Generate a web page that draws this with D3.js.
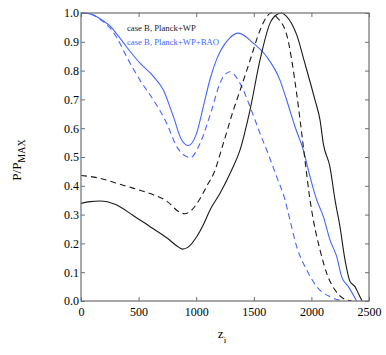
<!DOCTYPE html>
<html>
<head>
<meta charset="utf-8">
<script src="https://cdn.jsdelivr.net/npm/d3@7"></script>
<style>
  html, body { margin: 0; padding: 0; background: #fff; }
  svg { display: block; }
  text { font-family: "Liberation Serif", "DejaVu Serif", serif; }
</style>
</head>
<body>
<svg id="chart" width="386" height="355"></svg>
<script>
// ---- data (z_i, P/P_MAX) ----
const blackSolid = [[0,0.339],[80,0.345],[165,0.347],[300,0.335],[450,0.298],[600,0.258],[750,0.218],[830,0.192],[880,0.18],[930,0.187],[1004,0.223],[1062,0.265],[1120,0.316],[1207,0.374],[1308,0.455],[1380,0.524],[1467,0.663],[1554,0.837],[1640,0.964],[1700,0.995],[1740,1.0],[1780,0.99],[1830,0.962],[1872,0.925],[1940,0.83],[2031,0.698],[2075,0.628],[2104,0.545],[2161,0.466],[2205,0.351],[2248,0.258],[2292,0.142],[2335,0.068],[2378,0.05],[2407,0.027],[2440,0]];
const blackDashed = [[0,0.436],[165,0.426],[300,0.41],[450,0.392],[600,0.373],[750,0.345],[850,0.31],[900,0.303],[961,0.316],[1033,0.355],[1100,0.405],[1149,0.44],[1236,0.548],[1323,0.663],[1380,0.73],[1467,0.835],[1554,0.94],[1612,0.987],[1650,1.0],[1700,0.985],[1785,0.925],[1872,0.72],[1915,0.585],[1944,0.49],[1988,0.351],[2017,0.281],[2075,0.177],[2133,0.096],[2205,0.038],[2277,0.009],[2350,0]];
const blueSolid = [[0,1.0],[80,0.997],[165,0.98],[252,0.955],[320,0.922],[396,0.882],[512,0.826],[628,0.78],[715,0.733],[802,0.64],[874,0.559],[932,0.54],[1004,0.583],[1062,0.675],[1120,0.77],[1178,0.84],[1235,0.885],[1290,0.913],[1366,0.93],[1496,0.895],[1612,0.848],[1727,0.767],[1785,0.698],[1858,0.605],[1930,0.524],[1988,0.432],[2046,0.351],[2104,0.293],[2161,0.212],[2220,0.154],[2263,0.084],[2321,0.05],[2393,0]];
const blueDashed = [[0,1.0],[80,0.997],[165,0.978],[252,0.948],[310,0.915],[396,0.848],[512,0.767],[628,0.698],[744,0.617],[831,0.536],[900,0.505],[950,0.498],[1033,0.547],[1134,0.663],[1207,0.757],[1293,0.796],[1380,0.756],[1467,0.675],[1554,0.582],[1640,0.495],[1698,0.432],[1771,0.351],[1814,0.281],[1872,0.189],[1959,0.108],[2046,0.05],[2161,0.015],[2277,0]];

const xTicks = [0, 500, 1000, 1500, 2000, 2500];
const yTicks = [0, 0.1, 0.2, 0.3, 0.4, 0.5, 0.6, 0.7, 0.8, 0.9, 1.0];
const legendLabels = ["case B, Planck+WP", "case B, Planck+WP+BAO"];

// ---- layout ----
const svg = d3.select("#chart");
const m = {left: 81, top: 13, right: 17, bottom: 54};
const W = 386 - m.left - m.right, H = 355 - m.top - m.bottom;
const x = d3.scaleLinear().domain([0, 2500]).range([0, W]);
const y = d3.scaleLinear().domain([0, 1]).range([H, 0]);

const g = svg.append("g").attr("transform", `translate(${m.left},${m.top})`);

g.append("clipPath").attr("id", "clip").append("rect")
  .attr("x", 0).attr("y", -1).attr("width", W).attr("height", H + 1);

const BLUE = "#4466ff", BLACK = "#1a1a1a", AXIS = "#6e6e6e";

const line = d3.line().x(d => x(d[0])).y(d => y(d[1])).curve(d3.curveMonotoneX);
const series = [
  {data: blueDashed, color: BLUE, dash: "6,4"},
  {data: blueSolid, color: BLUE, dash: null},
  {data: blackDashed, color: BLACK, dash: "6,4"},
  {data: blackSolid, color: BLACK, dash: null}
];
const lines = g.append("g").attr("clip-path", "url(#clip)");
series.forEach(s => {
  lines.append("path").datum(s.data)
    .attr("d", line).attr("fill", "none")
    .attr("stroke", s.color).attr("stroke-width", 1.1)
    .attr("stroke-dasharray", s.dash);
});

// ---- axes ----
const tl = 4;
const styleAxis = sel => {
  sel.select(".domain").remove();
  sel.selectAll(".tick line").attr("stroke", AXIS).attr("stroke-width", 1);
  sel.selectAll(".tick text").attr("fill", "#000").style("font-size", "12px")
     .style("font-family", '"Liberation Serif", serif');
};
g.append("g").attr("transform", `translate(0,${H})`)
  .call(d3.axisBottom(x).tickValues(xTicks).tickSizeInner(-tl).tickSizeOuter(0).tickPadding(6).tickFormat(d3.format("d")))
  .call(styleAxis);
g.append("g")
  .call(d3.axisTop(x).tickValues(xTicks).tickSizeInner(-tl).tickSizeOuter(0).tickFormat(""))
  .call(styleAxis);
g.append("g")
  .call(d3.axisLeft(y).tickValues(yTicks).tickSizeInner(-tl).tickSizeOuter(0).tickPadding(2).tickFormat(d3.format(".1f")))
  .call(styleAxis);
g.append("g").attr("transform", `translate(${W},0)`)
  .call(d3.axisRight(y).tickValues(yTicks).tickSizeInner(-tl).tickSizeOuter(0).tickFormat(""))
  .call(styleAxis);

g.append("rect").attr("x", 0).attr("y", 0).attr("width", W).attr("height", H)
  .attr("fill", "none").attr("stroke", AXIS).attr("stroke-width", 1.2);

// ---- legend ----
const leg = g.append("g");
[BLACK, BLUE].forEach((c, i) => {
  leg.append("text").attr("x", 46).attr("y", 18 + i * 14)
    .attr("fill", c).style("font-size", "8.7px").text(legendLabels[i]);
});

// ---- axis titles ----
const xl = svg.append("text").attr("x", 222).attr("y", 338)
  .attr("text-anchor", "middle").style("font-size", "13px");
xl.append("tspan").text("z");
xl.append("tspan").attr("dy", 5).style("font-size", "9px").text("i");

const yl = svg.append("text").attr("transform", "translate(21,160) rotate(-90)")
  .attr("text-anchor", "middle").style("font-size", "13px");
yl.append("tspan").text("P/P");
yl.append("tspan").attr("dy", 4).style("font-size", "10px").text("MAX");
</script>
</body>
</html>
